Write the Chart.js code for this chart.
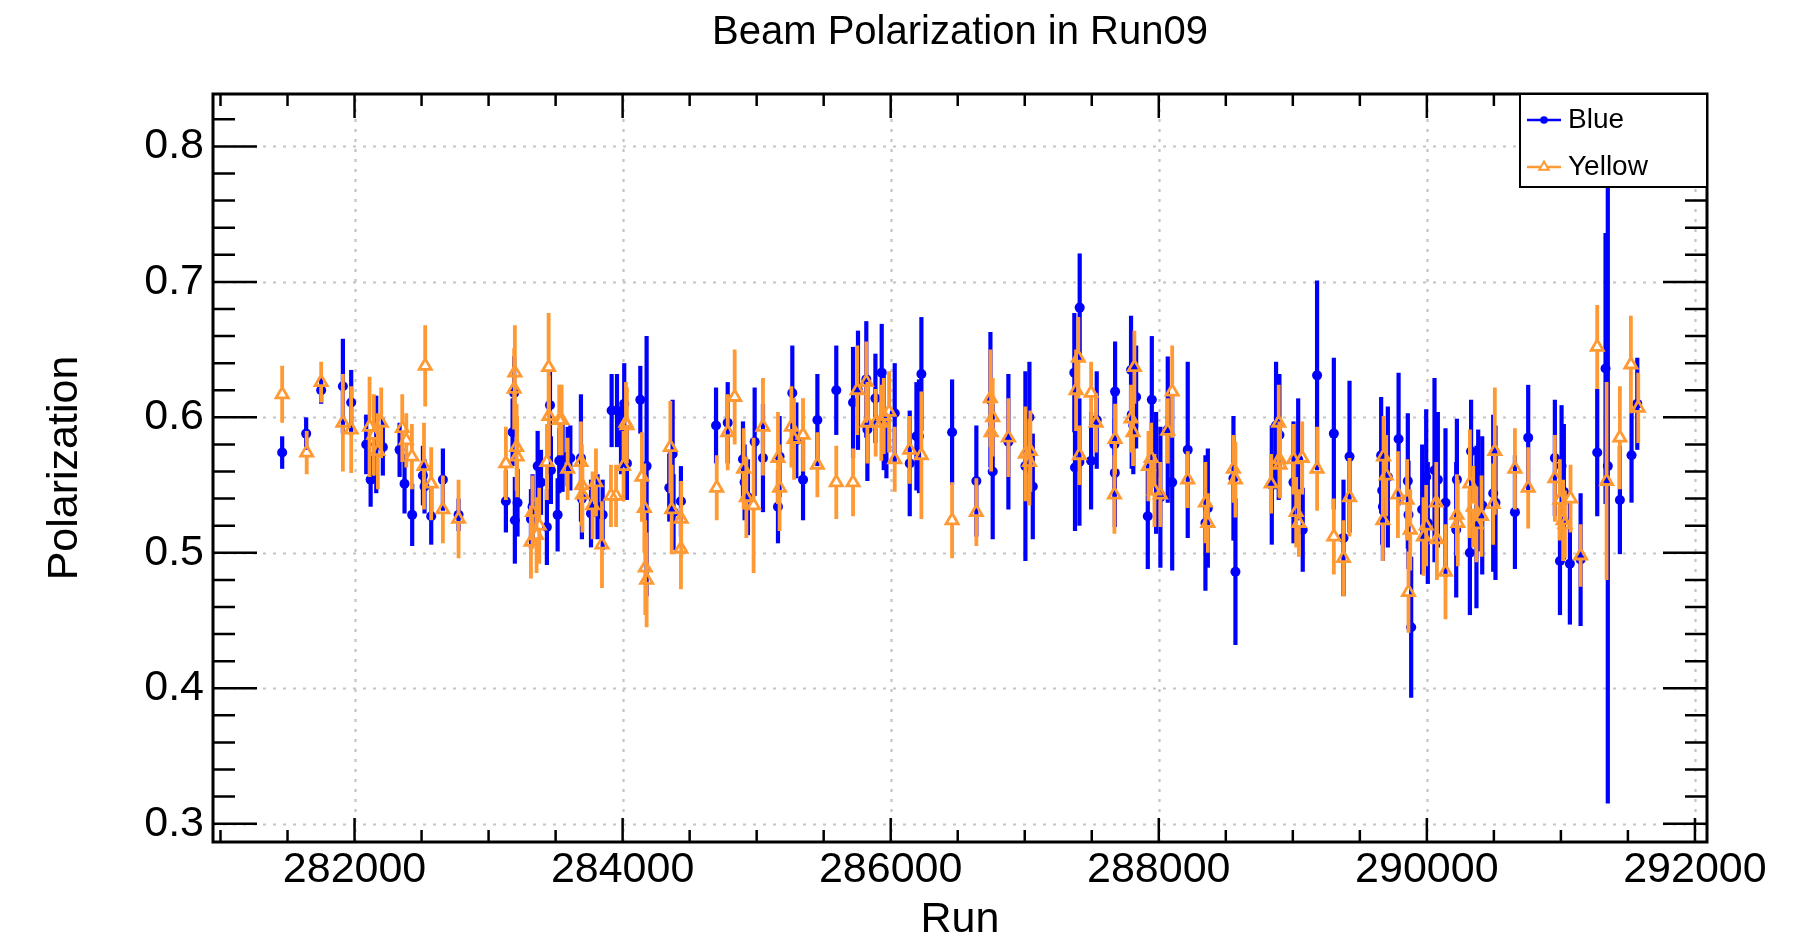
<!DOCTYPE html>
<html>
<head>
<meta charset="utf-8">
<title>Beam Polarization in Run09</title>
<script src="https://cdn.jsdelivr.net/npm/chart.js@4.4.1/dist/chart.umd.min.js"></script>
<style>
  html, body { margin: 0; padding: 0; background: #fff; }
  #wrap { width: 1808px; height: 938px; }
</style>
</head>
<body>
<div id="wrap"><canvas id="polChart" width="1808" height="938"></canvas></div>
<script>
// run numbers, polarization and errors
const blueRun = [281460, 281639, 281751, 281913, 281975, 282087, 282120, 282162, 282211, 282336, 282373, 282430, 282510, 282522, 282572, 282659, 282776,
  283129, 283179, 283191, 283196, 283216, 283316, 283328, 283366, 283391, 283435, 283458, 283465, 283515, 283527, 283552, 283590, 283610, 283689, 283696, 283764, 283813, 283851, 283918, 283958, 283988, 284012, 284032, 284132, 284179, 284348, 284373, 284380, 284435, 284697, 284784,
  284898, 284910, 284935, 284985, 285047, 285159, 285171, 285266, 285296, 285346, 285453, 285594, 285719, 285756, 285818, 285826, 285886, 285933, 285948, 285968, 286030, 286142, 286192, 286211, 286229, 286458, 286639,
  286744, 286761, 286878, 287005, 287035, 287060, 287370, 287375, 287410, 287408, 287495, 287537, 287674, 287669, 287672, 287793, 287831, 287798, 287810, 287948, 287980, 287918, 288012, 288067, 288100, 288216, 288348, 288366,
  288557, 288572, 288843, 288875, 288900, 288895, 289005, 289040, 289074, 289181, 289306, 289378, 289423, 289659, 289667, 289672, 289709, 289789, 289858, 289863, 289883, 289965, 289995, 290007, 290057, 290082, 290139, 290224, 290219,
  290321, 290330, 290370, 290383, 290413, 290495, 290512, 290657, 290756, 290955, 290993, 291005, 291022, 291067, 291147, 291271, 291333, 291350, 291440, 291527, 291570];
const bluePol = [0.574, 0.588, 0.620, 0.623, 0.611, 0.580, 0.554, 0.580, 0.578, 0.576, 0.551, 0.528, 0.557, 0.549, 0.527, 0.554, 0.528,
  0.538, 0.589, 0.618, 0.524, 0.537, 0.525, 0.534, 0.564, 0.552, 0.519, 0.609, 0.561, 0.528, 0.568, 0.570, 0.571, 0.570, 0.570, 0.540, 0.529, 0.534, 0.528, 0.605, 0.605, 0.583, 0.610, 0.566, 0.613, 0.564, 0.548, 0.573, 0.530, 0.538, 0.594, 0.596,
  0.569, 0.552, 0.541, 0.582, 0.570, 0.534, 0.571, 0.618, 0.583, 0.554, 0.598, 0.620, 0.611, 0.620, 0.628, 0.591, 0.614, 0.633, 0.596, 0.578, 0.603, 0.566, 0.586, 0.586, 0.632, 0.589, 0.553,
  0.613, 0.560, 0.582, 0.564, 0.600, 0.549, 0.633, 0.563, 0.681, 0.567, 0.568, 0.598, 0.619, 0.580, 0.559, 0.635, 0.615, 0.602, 0.594, 0.613, 0.559, 0.527, 0.541, 0.591, 0.552, 0.576, 0.522, 0.533,
  0.555, 0.486, 0.550, 0.594, 0.587, 0.569, 0.552, 0.569, 0.517, 0.631, 0.588, 0.511, 0.571, 0.572, 0.546, 0.534, 0.556, 0.584, 0.553, 0.528, 0.445, 0.532, 0.556, 0.522, 0.561, 0.554, 0.537, 0.554, 0.517,
  0.500, 0.575, 0.519, 0.546, 0.535, 0.544, 0.537, 0.530, 0.585, 0.570, 0.494, 0.564, 0.545, 0.492, 0.495, 0.574, 0.636, 0.564, 0.539, 0.572, 0.610];
const blueErr = [0.012, 0.012, 0.010, 0.035, 0.024, 0.022, 0.020, 0.036, 0.021, 0.020, 0.022, 0.023, 0.022, 0.020, 0.021, 0.023, 0.012,
  0.023, 0.025, 0.027, 0.032, 0.025, 0.022, 0.024, 0.026, 0.024, 0.028, 0.025, 0.025, 0.027, 0.024, 0.025, 0.022, 0.024, 0.047, 0.030, 0.025, 0.024, 0.026, 0.027, 0.027, 0.025, 0.030, 0.027, 0.025, 0.096, 0.025, 0.040, 0.028, 0.026, 0.028, 0.030,
  0.028, 0.028, 0.028, 0.040, 0.040, 0.027, 0.030, 0.035, 0.028, 0.030, 0.034, 0.033, 0.041, 0.044, 0.043, 0.038, 0.033, 0.036, 0.035, 0.023, 0.037, 0.039, 0.040, 0.042, 0.042, 0.039, 0.041,
  0.050, 0.050, 0.050, 0.070, 0.041, 0.039, 0.044, 0.047, 0.040, 0.047, 0.036, 0.036, 0.037, 0.040, 0.040, 0.040, 0.038, 0.040, 0.036, 0.047, 0.045, 0.039, 0.052, 0.054, 0.065, 0.065, 0.050, 0.044,
  0.046, 0.054, 0.044, 0.047, 0.045, 0.030, 0.045, 0.045, 0.031, 0.070, 0.056, 0.043, 0.056, 0.043, 0.040, 0.040, 0.052, 0.049, 0.050, 0.040, 0.052, 0.048, 0.050, 0.045, 0.068, 0.050, 0.055, 0.045, 0.050,
  0.046, 0.038, 0.060, 0.045, 0.051, 0.058, 0.057, 0.042, 0.039, 0.043, 0.040, 0.045, 0.050, 0.045, 0.049, 0.047, 0.100, 0.249, 0.040, 0.035, 0.034];

const yellowRun = [281460, 281643, 281751, 281913, 281975, 282112, 282144, 282174, 282199, 282356, 282386, 282428, 282518, 282527, 282572, 282659, 282776,
  283129, 283196, 283191, 283209, 283213, 283316, 283328, 283358, 283378, 283448, 283450, 283435, 283527, 283545, 283590, 283689, 283696, 283700, 283776, 283801, 283846, 283913, 283951, 284007, 284025, 284032, 284144, 284162, 284169, 284179, 284356, 284366, 284435, 284437, 284702, 284784,
  284836, 284903, 284923, 284977, 285047, 285159, 285171, 285259, 285279, 285346, 285453, 285594, 285719, 285751, 285818, 285826, 285888, 285930, 285948, 285988, 286030, 286142, 286229, 286458, 286639,
  286744, 286761, 286749, 286878, 287005, 287042, 287035, 287383, 287400, 287408, 287495, 287532, 287674, 287669, 287818, 287793, 287808, 287923, 287943, 287968, 288012, 288067, 288100, 288216, 288348, 288366,
  288557, 288572, 288838, 288895, 288900, 288905, 289005, 289025, 289045, 289070, 289181, 289306, 289378, 289423, 289672, 289677, 289697, 289784, 289853, 289876, 289863, 289975, 289995, 290070, 290075, 290139, 290224, 290231,
  290321, 290346, 290370, 290408, 290507, 290495, 290657, 290756, 290955, 290992, 291017, 291030, 291072, 291147, 291271, 291341, 291440, 291522, 291577];
const yellowPol = [0.617, 0.574, 0.626, 0.596, 0.591, 0.593, 0.587, 0.575, 0.596, 0.592, 0.583, 0.571, 0.564, 0.638, 0.551, 0.532, 0.525,
  0.566, 0.633, 0.621, 0.578, 0.571, 0.508, 0.530, 0.513, 0.520, 0.637, 0.601, 0.567, 0.598, 0.598, 0.562, 0.567, 0.550, 0.543, 0.535, 0.552, 0.506, 0.542, 0.542, 0.564, 0.596, 0.594, 0.556, 0.533, 0.489, 0.480, 0.578, 0.532, 0.503, 0.525, 0.548, 0.589,
  0.615, 0.562, 0.541, 0.535, 0.593, 0.570, 0.548, 0.593, 0.584, 0.587, 0.565, 0.552, 0.552, 0.620, 0.626, 0.596, 0.596, 0.596, 0.601, 0.604, 0.569, 0.576, 0.572, 0.524, 0.530,
  0.614, 0.600, 0.589, 0.585, 0.573, 0.575, 0.567, 0.620, 0.644, 0.572, 0.618, 0.596, 0.584, 0.543, 0.637, 0.599, 0.589, 0.564, 0.570, 0.546, 0.543, 0.590, 0.619, 0.554, 0.537, 0.522,
  0.562, 0.554, 0.551, 0.596, 0.569, 0.565, 0.569, 0.530, 0.522, 0.570, 0.562, 0.512, 0.496, 0.541, 0.524, 0.571, 0.557, 0.543, 0.539, 0.517, 0.471, 0.512, 0.520, 0.537, 0.510, 0.486, 0.528, 0.522,
  0.551, 0.534, 0.521, 0.527, 0.575, 0.536, 0.562, 0.548, 0.555, 0.539, 0.524, 0.521, 0.540, 0.498, 0.652, 0.553, 0.585, 0.639, 0.607];
const yellowErr = [0.021, 0.016, 0.015, 0.036, 0.032, 0.037, 0.030, 0.028, 0.026, 0.025, 0.020, 0.024, 0.032, 0.030, 0.027, 0.025, 0.029,
  0.027, 0.035, 0.030, 0.032, 0.030, 0.027, 0.027, 0.028, 0.028, 0.040, 0.030, 0.028, 0.026, 0.026, 0.023, 0.030, 0.030, 0.028, 0.025, 0.025, 0.032, 0.023, 0.023, 0.026, 0.030, 0.028, 0.033, 0.033, 0.035, 0.035, 0.034, 0.033, 0.030, 0.028, 0.024, 0.028,
  0.035, 0.030, 0.030, 0.050, 0.036, 0.034, 0.032, 0.030, 0.030, 0.027, 0.024, 0.027, 0.025, 0.033, 0.030, 0.030, 0.025, 0.028, 0.028, 0.030, 0.024, 0.025, 0.047, 0.028, 0.025,
  0.036, 0.029, 0.029, 0.029, 0.035, 0.030, 0.032, 0.030, 0.030, 0.022, 0.023, 0.022, 0.026, 0.029, 0.027, 0.025, 0.025, 0.026, 0.026, 0.027, 0.024, 0.024, 0.034, 0.021, 0.030, 0.022,
  0.025, 0.028, 0.022, 0.028, 0.028, 0.025, 0.026, 0.026, 0.025, 0.027, 0.031, 0.028, 0.028, 0.029, 0.030, 0.030, 0.030, 0.032, 0.030, 0.030, 0.030, 0.029, 0.030, 0.030, 0.030, 0.035, 0.030, 0.032,
  0.040, 0.030, 0.028, 0.030, 0.047, 0.030, 0.030, 0.030, 0.032, 0.030, 0.030, 0.025, 0.025, 0.023, 0.031, 0.073, 0.038, 0.036, 0.026];

const xTicks = [282000, 284000, 286000, 288000, 290000, 292000];
const yTicks = [0.3, 0.4, 0.5, 0.6, 0.7, 0.8];

const FONT = "'Liberation Sans', Arial, Helvetica, sans-serif";
const BLUE = '#0000ff';
const ORANGE = '#ff9933';

Chart.defaults.font.family = FONT;
Chart.defaults.color = '#000';

function toPoints(runs, pols) {
  return runs.map((r, i) => ({ x: r, y: pols[i] }));
}

// vertical error bars, drawn under each dataset's markers
const errorBars = {
  id: 'errorBars',
  beforeDatasetDraw(chart, args) {
    const ds = chart.data.datasets[args.index];
    const yScale = chart.scales.y;
    const area = chart.chartArea;
    const ctx = chart.ctx;
    ctx.save();
    ctx.beginPath();
    ctx.rect(area.left, area.top, area.right - area.left, area.bottom - area.top);
    ctx.clip();
    ctx.strokeStyle = ds.borderColor;
    ctx.lineWidth = ds.errWidth;
    args.meta.data.forEach((pt, i) => {
      const v = ds.data[i].y;
      const e = ds.errors[i];
      const top = yScale.getPixelForValue(v + e);
      const bot = yScale.getPixelForValue(v - e);
      ctx.beginPath();
      if (ds.errGap) {
        ctx.moveTo(pt.x, top);
        ctx.lineTo(pt.x, Math.min(pt.y - ds.errGap[0], bot));
        ctx.moveTo(pt.x, Math.max(pt.y + ds.errGap[1], top));
        ctx.lineTo(pt.x, bot);
      } else {
        ctx.moveTo(pt.x, top);
        ctx.lineTo(pt.x, bot);
      }
      ctx.stroke();
    });
    ctx.restore();
  }
};

// ROOT style frame: dotted grid, inward ticks on all four sides
const rootFrame = {
  id: 'rootFrame',
  beforeDatasetsDraw(chart) {
    const { ctx, chartArea: a, scales: { x, y } } = chart;
    ctx.save();
    ctx.strokeStyle = '#c4c4c4';
    ctx.lineWidth = 2.2;
    ctx.setLineDash([3, 7]);
    xTicks.forEach(v => {
      const px = Math.round(x.getPixelForValue(v)) + 0.5;
      ctx.beginPath(); ctx.moveTo(px, a.bottom); ctx.lineTo(px, a.top); ctx.stroke();
    });
    yTicks.forEach(v => {
      const py = Math.round(y.getPixelForValue(v)) + 0.5;
      ctx.beginPath(); ctx.moveTo(a.left, py); ctx.lineTo(a.right, py); ctx.stroke();
    });
    ctx.restore();
  },
  afterDatasetsDraw(chart) {
    const { ctx, chartArea: a, scales: { x, y } } = chart;
    ctx.save();
    ctx.strokeStyle = '#000';
    ctx.lineWidth = 2.5;
    for (let v = 281000; v <= 292000; v += 500) {
      const px = x.getPixelForValue(v);
      const len = v % 2000 === 0 ? 24 : 12;
      ctx.beginPath();
      ctx.moveTo(px, a.bottom); ctx.lineTo(px, a.bottom - len);
      ctx.moveTo(px, a.top); ctx.lineTo(px, a.top + len);
      ctx.stroke();
    }
    for (let k = 15; k <= 41; k++) {
      const py = y.getPixelForValue(k * 0.02);
      const len = k % 5 === 0 ? 44 : 22;
      ctx.beginPath();
      ctx.moveTo(a.left, py); ctx.lineTo(a.left + len, py);
      ctx.moveTo(a.right, py); ctx.lineTo(a.right - len, py);
      ctx.stroke();
    }
    ctx.lineWidth = 3;
    ctx.strokeRect(a.left, a.top, a.right - a.left, a.bottom - a.top);
    ctx.restore();
  }
};

// boxed legend in the top right corner
const rootLegend = {
  id: 'rootLegend',
  afterDraw(chart) {
    const { ctx, chartArea: a } = chart;
    const w = 187, h = 93;
    const bx = a.right - w, by = a.top;
    ctx.save();
    ctx.fillStyle = '#fff';
    ctx.fillRect(bx, by, w, h);
    ctx.strokeStyle = '#000';
    ctx.lineWidth = 2;
    ctx.strokeRect(bx, by, w, h);
    const rows = [by + 26, by + 73];
    chart.data.datasets.slice().sort((p, q) => q.order - p.order).forEach((ds, i) => {
      const ry = rows[i];
      const mx = bx + 24;
      ctx.strokeStyle = ds.borderColor;
      ctx.lineWidth = 2.5;
      ctx.beginPath(); ctx.moveTo(bx + 7, ry); ctx.lineTo(bx + 41, ry); ctx.stroke();
      if (ds.pointStyle === 'triangle') {
        const r = 5.5;
        ctx.fillStyle = '#fff';
        ctx.beginPath();
        ctx.moveTo(mx, ry - r);
        ctx.lineTo(mx + r * 0.866, ry + r / 2);
        ctx.lineTo(mx - r * 0.866, ry + r / 2);
        ctx.closePath();
        ctx.fill();
        ctx.lineWidth = 2;
        ctx.stroke();
      } else {
        ctx.fillStyle = ds.backgroundColor;
        ctx.beginPath(); ctx.arc(mx, ry, 3.8, 0, Math.PI * 2); ctx.fill();
      }
      ctx.fillStyle = '#000';
      ctx.font = '28px ' + FONT;
      ctx.textBaseline = 'middle';
      ctx.textAlign = 'left';
      ctx.fillText(ds.label, bx + 48, ry);
    });
    ctx.restore();
  }
};

new Chart(document.getElementById('polChart'), {
  type: 'scatter',
  data: {
    datasets: [
      {
        label: 'Blue',
        data: toPoints(blueRun, bluePol),
        errors: blueErr,
        errWidth: 4.2,
        errGap: null,
        order: 2,
        pointStyle: 'circle',
        pointRadius: 5,
        pointBorderWidth: 0,
        backgroundColor: BLUE,
        borderColor: BLUE
      },
      {
        label: 'Yellow',
        data: toPoints(yellowRun, yellowPol),
        errors: yellowErr,
        errWidth: 3.8,
        errGap: [7, 4],
        order: 1,
        pointStyle: 'triangle',
        pointRadius: 7,
        pointBorderWidth: 2.8,
        backgroundColor: 'rgba(0,0,0,0)',
        borderColor: ORANGE
      }
    ]
  },
  options: {
    responsive: false,
    devicePixelRatio: 1,
    animation: false,
    events: [],
    layout: { padding: 0 },
    plugins: {
      legend: { display: false },
      tooltip: { enabled: false },
      title: {
        display: true,
        fullSize: false,
        text: 'Beam Polarization in Run09',
        font: { size: 40, weight: 'normal', lineHeight: 1.2 },
        color: '#000',
        padding: { top: 9, bottom: 37 }
      }
    },
    scales: {
      x: {
        type: 'linear',
        position: 'bottom',
        min: 280944,
        max: 292090,
        afterBuildTicks: s => { s.ticks = xTicks.map(v => ({ value: v })); },
        afterFit: s => { s.height = 96; },
        grid: { display: false, drawTicks: false },
        border: { display: false },
        ticks: {
          font: { size: 43 },
          color: '#000',
          padding: 2,
          maxRotation: 0,
          autoSkip: false,
          callback: v => String(v)
        },
        title: {
          display: true,
          text: 'Run',
          font: { size: 43, lineHeight: 0.84 },
          color: '#000',
          padding: { top: 0, bottom: 0 }
        }
      },
      y: {
        type: 'linear',
        position: 'left',
        min: 0.2865,
        max: 0.8387,
        afterBuildTicks: s => { s.ticks = yTicks.map(v => ({ value: v })); },
        afterFit: s => { s.width = 213; },
        grid: { display: false, drawTicks: false },
        border: { display: false },
        ticks: {
          font: { size: 43 },
          color: '#000',
          padding: 9,
          callback: v => v.toFixed(1)
        },
        title: {
          display: true,
          text: 'Polarization',
          font: { size: 43, lineHeight: 1 },
          color: '#000',
          padding: { top: 44, bottom: 0 }
        }
      },
      yRight: {
        type: 'linear',
        position: 'right',
        min: 0.2865,
        max: 0.8387,
        afterFit: s => { s.width = 101; },
        grid: { display: false, drawTicks: false },
        border: { display: false },
        ticks: { display: false }
      }
    }
  },
  plugins: [rootFrame, errorBars, rootLegend]
});
</script>
</body>
</html>
